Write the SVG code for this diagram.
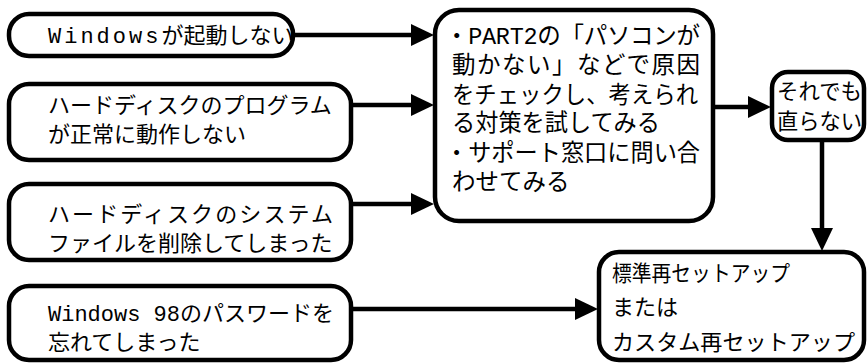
<svg xmlns="http://www.w3.org/2000/svg" width="868" height="364" viewBox="0 0 868 364">
<style>
.box{fill:#fff;stroke:#000;stroke-width:4.5}
.t{font-family:"Liberation Sans","Noto Sans CJK JP",sans-serif;font-size:22px;fill:#000}
.m{font-family:"Liberation Mono",monospace}
.big{font-size:23.5px}
.c{stroke:#000;stroke-width:4.5;fill:none;marker-end:url(#ah)}
</style>
<defs>
<marker id="ah" markerUnits="userSpaceOnUse" markerWidth="24" markerHeight="22" viewBox="0 0 24 22" refX="12" refY="11" orient="auto">
<path d="M0,0 L23,11 L0,22 z" fill="#000"/>
</marker>
</defs>
<g id="connectors">
<line class="c" x1="293" y1="35" x2="423" y2="35"/>
<line class="c" x1="351" y1="105" x2="423" y2="105"/>
<line class="c" x1="351" y1="204" x2="423" y2="204"/>
<line class="c" x1="351" y1="309" x2="587" y2="309"/>
<line class="c" x1="713" y1="107" x2="760" y2="107"/>
<line class="c" x1="822" y1="140" x2="822" y2="240"/>
</g>
<g id="n1">
<rect class="box" x="9" y="14" width="284" height="42" rx="20"/>
<text class="t" x="48" y="43"><tspan class="m" style="letter-spacing:3px">Windows</tspan>が起動しない</text>
</g>
<g id="n2">
<rect class="box" x="9" y="84" width="342" height="76" rx="20"/>
<text class="t" x="48" y="113">ハードディスクのプログラム</text>
<text class="t" x="48" y="142">が正常に動作しない</text>
</g>
<g id="n3">
<rect class="box" x="9" y="184" width="342" height="76" rx="20"/>
<text class="t" x="48" y="222" textLength="285" lengthAdjust="spacing">ハードディスクのシステム</text>
<text class="t" x="48" y="251">ファイルを削除してしまった</text>
</g>
<g id="n4">
<rect class="box" x="9" y="286" width="342" height="74" rx="20"/>
<text class="t" x="48" y="321"><tspan class="m">Windows 98</tspan>のパスワードを</text>
<text class="t" x="48" y="350">忘れてしまった</text>
</g>
<g id="n5">
<rect class="box" x="435" y="10" width="278" height="211" rx="24"/>
<text class="t big" x="445" y="44" textLength="255" lengthAdjust="spacing">・<tspan class="m">PART2</tspan>の「パソコンが</text>
<text class="t big" x="452" y="73" textLength="248" lengthAdjust="spacing">動かない」などで原因</text>
<text class="t big" x="452" y="103" textLength="246" lengthAdjust="spacingAndGlyphs">をチェックし、考えられ</text>
<text class="t big" x="452" y="131" textLength="208" lengthAdjust="spacingAndGlyphs">る対策を試してみる</text>
<text class="t big" x="445" y="161" textLength="255" lengthAdjust="spacingAndGlyphs">・サポート窓口に問い合</text>
<text class="t big" x="452" y="190">わせてみる</text>
</g>
<g id="n6">
<rect class="box" x="772" y="72" width="92" height="68" rx="16"/>
<text class="t" x="777" y="99" textLength="85" lengthAdjust="spacingAndGlyphs">それでも</text>
<text class="t" x="777" y="129" textLength="85" lengthAdjust="spacingAndGlyphs">直らない</text>
</g>
<g id="n7">
<rect class="box" x="599" y="252" width="265" height="108" rx="20"/>
<text class="t" x="612" y="281" textLength="178" lengthAdjust="spacingAndGlyphs">標準再セットアップ</text>
<text class="t" x="612" y="315">または</text>
<text class="t" x="612" y="350" textLength="243" lengthAdjust="spacingAndGlyphs">カスタム再セットアップ</text>
</g>
</svg>
